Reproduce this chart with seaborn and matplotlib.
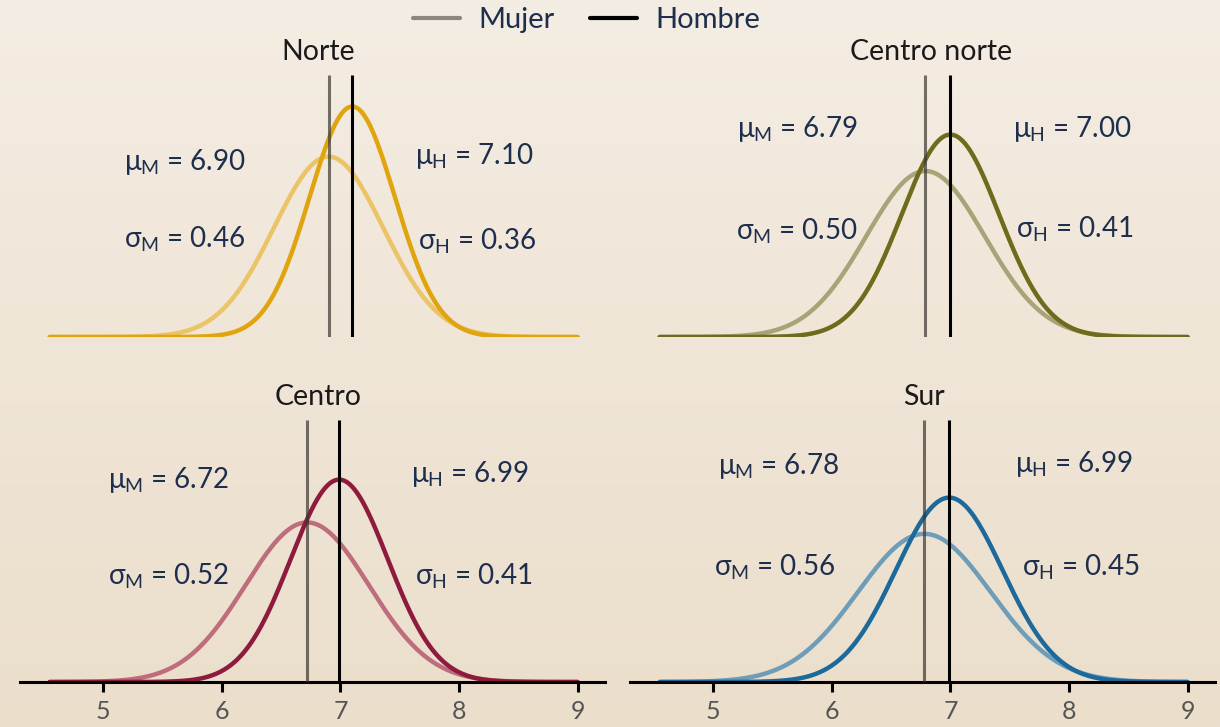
import numpy as np
import pandas as pd
import matplotlib
matplotlib.use("Agg")
import matplotlib.pyplot as plt
import seaborn as sns
from matplotlib.lines import Line2D

# ---- data ----
regions = ["Norte", "Centro norte", "Centro", "Sur"]
mu_mujer = [6.90, 6.79, 6.72, 6.78]
mu_hombre = [7.10, 7.00, 6.99, 6.99]
sd_mujer = [0.46, 0.50, 0.52, 0.56]
sd_hombre = [0.36, 0.41, 0.41, 0.45]
tick_values = [5, 6, 7, 8, 9]
legend_labels = ["Mujer", "Hombre"]

# ---- styles ----
col_hombre = ["#E0A40E", "#6E6C1C", "#8E1A3E", "#1C699B"]
col_mujer = ["#EAC466", "#A8A477", "#BE6D7C", "#6E9DB9"]
text_col = "#1E2E4C"

sns.set_theme(style="white")
plt.rcParams["font.family"] = ["Lato", "DejaVu Sans"]
plt.rcParams["mathtext.fontset"] = "custom"
plt.rcParams["mathtext.rm"] = "Lato"
plt.rcParams["mathtext.it"] = "Lato"
plt.rcParams["mathtext.sf"] = "Lato"

fig = plt.figure(figsize=(12.2, 7.27), dpi=100)

# background gradient
bg = fig.add_axes([0, 0, 1, 1], zorder=-10)
top = np.array([244, 237, 227]) / 255
bot = np.array([235, 222, 203]) / 255
t = np.linspace(0, 1, 256)[:, None]
grad = (top[None, :] * (1 - t) + bot[None, :] * t)[:, None, :]
bg.imshow(grad, aspect="auto", extent=[0, 1, 0, 1])
bg.axis("off")

xlim = (4.30, 9.23)
ylim = (0, 1.30)
ax_w = 0.4795
ax_h = 1.30 * 208 / 727
positions = [
    [0.0164, (727 - 337) / 727],
    [0.5164, (727 - 337) / 727],
    [0.0164, (727 - 682) / 727],
    [0.5164, (727 - 682) / 727],
]

# annotation placement (x, y) per panel : muM, sdM, muH, sdH
ann_pos = [
    [(5.69, 0.84), (5.69, 0.47), (8.13, 0.87), (8.15, 0.46)],
    [(5.71, 1.00), (5.71, 0.51), (8.03, 1.00), (8.05, 0.52)],
    [(5.55, 0.97), (5.55, 0.51), (8.09, 1.00), (8.12, 0.51)],
    [(5.55, 1.04), (5.52, 0.55), (8.04, 1.05), (8.10, 0.55)],
]
title_x = [6.81, 6.84, 6.81, 6.78]

xs = np.linspace(4.55, 9.0, 400)

def npdf(x, m, s):
    return np.exp(-0.5 * ((x - m) / s) ** 2) / (s * np.sqrt(2 * np.pi))

for i, reg in enumerate(regions):
    ax = fig.add_axes([positions[i][0], positions[i][1], ax_w, ax_h])
    ax.set_facecolor("none")
    df = pd.DataFrame({
        "x": np.concatenate([xs, xs]),
        "y": np.concatenate([npdf(xs, mu_mujer[i], sd_mujer[i]),
                             npdf(xs, mu_hombre[i], sd_hombre[i])]),
        "sexo": ["Mujer"] * len(xs) + ["Hombre"] * len(xs),
    })
    sns.lineplot(data=df, x="x", y="y", hue="sexo",
                 palette={"Mujer": col_mujer[i], "Hombre": col_hombre[i]},
                 hue_order=["Mujer", "Hombre"], linewidth=3.2, ax=ax,
                 legend=False, sort=False, estimator=None)
    ax.vlines(mu_mujer[i], 0, 1.26, color="#3a3630", alpha=0.7, linewidth=2.2, zorder=5)
    ax.vlines(mu_hombre[i], 0, 1.26, color="black", linewidth=2.2, zorder=6)
    ax.set_xlim(*xlim)
    ax.set_ylim(*ylim)
    ax.set_xlabel("")
    ax.set_ylabel("")
    ax.set_yticks([])
    for s in ["top", "right", "left"]:
        ax.spines[s].set_visible(False)
    if i >= 2:
        ax.spines["bottom"].set_visible(True)
        ax.spines["bottom"].set_color("black")
        ax.spines["bottom"].set_linewidth(2.2)
        ax.set_xticks(tick_values)
        ax.set_xticklabels([str(v) for v in tick_values])
        ax.tick_params(axis="x", direction="out", length=7, width=2.2,
                       color="black", labelsize=18, labelcolor="#555555", pad=6,
                       bottom=True)
    else:
        ax.spines["bottom"].set_visible(False)
        ax.set_xticks([])
    ax.text(title_x[i], 1.37, reg, ha="center", va="center", fontsize=20.5,
            color="#1a1a1a", clip_on=False)
    p = ann_pos[i]
    fs = 20
    ax.text(*p[0], r"$\mu_{\mathrm{M}}$" + f" = {mu_mujer[i]:.2f}", ha="center", va="center",
            fontsize=fs, color=text_col)
    ax.text(*p[1], r"$\sigma_{\mathrm{M}}$" + f" = {sd_mujer[i]:.2f}", ha="center", va="center",
            fontsize=fs, color=text_col)
    ax.text(*p[2], r"$\mu_{\mathrm{H}}$" + f" = {mu_hombre[i]:.2f}", ha="center", va="center",
            fontsize=fs, color=text_col)
    ax.text(*p[3], r"$\sigma_{\mathrm{H}}$" + f" = {sd_hombre[i]:.2f}", ha="center", va="center",
            fontsize=fs, color=text_col)

handles = [Line2D([0], [0], color="#8a8680", linewidth=3),
           Line2D([0], [0], color="black", linewidth=3)]
fig.legend(handles, legend_labels, loc="center", bbox_to_anchor=(0.481, 0.972),
           ncol=2, frameon=False, fontsize=21, handlelength=1.6,
           columnspacing=1.2, handletextpad=0.65, labelcolor=text_col)

fig.savefig("out.png", dpi=100)
